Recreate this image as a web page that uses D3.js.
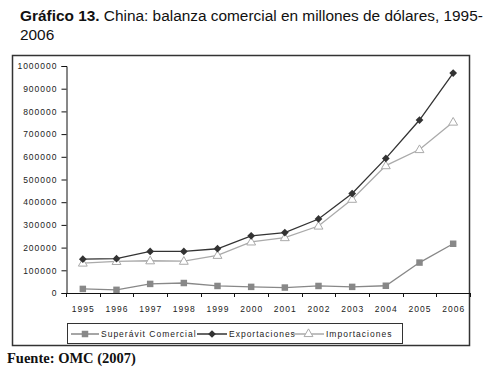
<!DOCTYPE html>
<html>
<head>
<meta charset="utf-8">
<script src="https://cdn.jsdelivr.net/npm/d3@7"></script>
<style>
  body { margin: 0; background: #fff; }
  svg { display: block; }
  .tick-label { font-family: "Liberation Sans", Arial, sans-serif; font-size: 8.5px; letter-spacing: 1px; fill: #222; }
</style>
</head>
<body>
<div id="chart"></div>
<script>
var years = ["1995","1996","1997","1998","1999","2000","2001","2002","2003","2004","2005","2006"];
var superavit = [18000, 14000, 40000, 44000, 31000, 27000, 24000, 31000, 27000, 32000, 134000, 217000];
var exportaciones = [149000, 151000, 183000, 183000, 195000, 252000, 266000, 326000, 438000, 593000, 762000, 969000];
var importaciones = [132000, 139000, 142000, 140000, 166000, 225000, 244000, 295000, 413000, 561000, 632000, 753000];
var yTicks = [0,100000,200000,300000,400000,500000,600000,700000,800000,900000,1000000];
var seriesNames = ["Superávit Comercial", "Exportaciones", "Importaciones"];

var svg = d3.select("#chart").append("svg")
      .attr("width", 502)
      .attr("height", 371);

// title
var title = svg.append("text")
      .attr("x", 20)
      .attr("y", 21)
      .attr("font-family", "Liberation Sans, Arial, sans-serif")
      .attr("font-size", 15.4)
      .attr("fill", "#111");
title.append("tspan").attr("font-weight", "bold").text("Gráfico 13.");
title.append("tspan").text(" China: balanza comercial en millones de dólares, 1995-");
svg.append("text")
      .attr("x", 20)
      .attr("y", 40)
      .attr("font-family", "Liberation Sans, Arial, sans-serif")
      .attr("font-size", 15.4)
      .attr("fill", "#111")
      .text("2006");

// outer frame
svg.append("rect")
      .attr("x", 12.5)
      .attr("y", 55.5)
      .attr("width", 457)
      .attr("height", 290)
      .attr("fill", "none")
      .attr("stroke", "#333")
      .attr("stroke-width", 1.5);

var x = d3.scaleBand().domain(years).range([66, 470]);
var y = d3.scaleLinear().domain([0, 1000000]).range([293, 66]);

// y axis
var yAxis = svg.append("g")
      .attr("transform", "translate(66.5,0)")
      .call(d3.axisLeft(y).tickValues(yTicks).tickSize(5).tickPadding(4).tickFormat(d3.format("d")));
yAxis.select(".domain").attr("stroke", "#111");
yAxis.selectAll(".tick line").attr("stroke", "#111");
yAxis.selectAll("text").attr("class", "tick-label").attr("font-family", null).attr("font-size", null);

// x axis: line, ticks between categories, labels centered
var xAxis = svg.append("g");
xAxis.append("line")
      .attr("x1", 66).attr("x2", 470)
      .attr("y1", 293.5).attr("y2", 293.5)
      .attr("stroke", "#111");
var bounds = years.map(function(d){ return x(d); }).concat([x.range()[1]]);
xAxis.selectAll(".xt")
      .data(bounds)
      .enter()
      .append("line")
      .attr("x1", function(d){ return Math.round(d) + 0.5; })
      .attr("x2", function(d){ return Math.round(d) + 0.5; })
      .attr("y1", 293)
      .attr("y2", 297)
      .attr("stroke", "#111");
xAxis.selectAll("text")
      .data(years)
      .enter()
      .append("text")
      .attr("class", "tick-label")
      .attr("x", function(d){ return x(d) + x.bandwidth()/2 + 0.5; })
      .attr("y", 312)
      .attr("text-anchor", "middle")
      .text(function(d){ return d; });

var line = d3.line()
      .x(function(d, i){ return x(years[i]) + x.bandwidth()/2; })
      .y(function(d){ return y(d); });

// importaciones
svg.append("path").datum(importaciones)
      .attr("d", line).attr("fill", "none").attr("stroke", "#aaa").attr("stroke-width", 1.3);
// exportaciones
svg.append("path").datum(exportaciones)
      .attr("d", line).attr("fill", "none").attr("stroke", "#333").attr("stroke-width", 1.3);
// superavit
svg.append("path").datum(superavit)
      .attr("d", line).attr("fill", "none").attr("stroke", "#888").attr("stroke-width", 1.3);

var sqSym = d3.symbol().type(d3.symbolSquare).size(42);
var diaSym = d3.symbol().type(d3.symbolSquare).size(30);
var triSym = d3.symbol().type(d3.symbolTriangle).size(34);

svg.selectAll(".mImp").data(importaciones).enter().append("path")
      .attr("d", triSym)
      .attr("transform", function(d, i){ return "translate(" + (x(years[i]) + x.bandwidth()/2) + "," + (y(d) + 0.5) + ")"; })
      .attr("fill", "#fff").attr("stroke", "#aaa").attr("stroke-width", 1);
svg.selectAll(".mExp").data(exportaciones).enter().append("path")
      .attr("d", diaSym)
      .attr("transform", function(d, i){ return "translate(" + (x(years[i]) + x.bandwidth()/2) + "," + y(d) + ") rotate(45)"; })
      .attr("fill", "#333");
svg.selectAll(".mSup").data(superavit).enter().append("path")
      .attr("d", sqSym)
      .attr("transform", function(d, i){ return "translate(" + (x(years[i]) + x.bandwidth()/2) + "," + y(d) + ")"; })
      .attr("fill", "#888");

// legend
var legend = svg.append("g");
legend.append("rect")
      .attr("x", 67.5).attr("y", 323.5)
      .attr("width", 335).attr("height", 20)
      .attr("fill", "#fff").attr("stroke", "#333").attr("stroke-width", 1);
var legItems = [
  {name: seriesNames[0], lx: 71, tx: 101, color: "#888", sym: sqSym, fill: "#888", rot: 0},
  {name: seriesNames[1], lx: 197, tx: 229, color: "#333", sym: diaSym, fill: "#333", rot: 45},
  {name: seriesNames[2], lx: 293, tx: 326, color: "#aaa", sym: triSym, fill: "#fff", rot: 0}
];
var li = legend.selectAll(".li").data(legItems).enter().append("g");
li.append("line")
      .attr("x1", function(d){ return d.lx; })
      .attr("x2", function(d){ return d.tx - 2; })
      .attr("y1", 334).attr("y2", 334)
      .attr("stroke", function(d){ return d.color; })
      .attr("stroke-width", 1.5);
li.append("path")
      .attr("d", function(d){ return d.sym(); })
      .attr("transform", function(d){ return "translate(" + ((d.lx + d.tx - 2)/2) + ",334) rotate(" + d.rot + ")"; })
      .attr("fill", function(d){ return d.fill; })
      .attr("stroke", function(d){ return d.fill == "#fff" ? d.color : "none"; });
li.append("text")
      .attr("class", "tick-label")
      .attr("x", function(d){ return d.tx; })
      .attr("y", 337)
      .text(function(d){ return d.name; });

// source
svg.append("text")
      .attr("x", 7)
      .attr("y", 363)
      .attr("font-family", "Liberation Serif, Times New Roman, serif")
      .attr("font-weight", "bold")
      .attr("font-size", 14.5)
      .attr("fill", "#111")
      .text("Fuente: OMC (2007)");
</script>
</body>
</html>
